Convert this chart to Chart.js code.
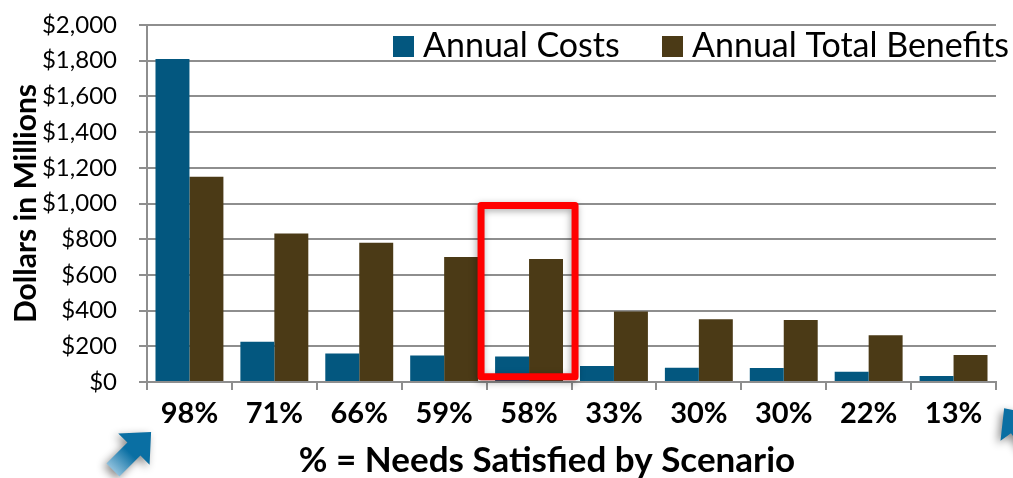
<!DOCTYPE html>
<html>
<head>
<meta charset="utf-8">
<title>Annual costs and benefits</title>
<script src="https://cdn.jsdelivr.net/npm/chart.js@4/dist/chart.umd.min.js"></script>
<style>
    html, body { margin: 0; padding: 0; background: #fff; overflow: hidden; }
    canvas { display: block; }
</style>
</head>
<body>
<canvas id="myChart" width="1013" height="478"></canvas>
<script>
const categories = ['98%', '71%', '66%', '59%', '58%', '33%', '30%', '30%', '22%', '13%']
const annualCosts = [1810, 225, 160, 148, 143, 90, 80, 78, 57, 34]
const annualBenefits = [1150, 832, 780, 700, 689, 395, 352, 348, 262, 151]

const fontName = 'Lato, "Open Sans", sans-serif'
const gridColor = '#8e8e8e'

function drawArrow(ctx, x, y, size, angle) {
    ctx.save()
    ctx.translate(x, y)
    ctx.rotate(angle)
    ctx.shadowColor = 'rgba(0,0,0,0.45)'
    ctx.shadowBlur = 8
    ctx.shadowOffsetX = -3
    ctx.shadowOffsetY = 3
    let g = ctx.createLinearGradient(0, -size, 0, size)
    g.addColorStop(0, '#0a6fa3')
    g.addColorStop(0.55, '#0a6fa3')
    g.addColorStop(1, '#8fc0dc')
    ctx.fillStyle = g
    ctx.beginPath()
    ctx.moveTo(0, -size)
    ctx.lineTo(size * 0.82, -size * 0.1)
    ctx.lineTo(size * 0.34, -size * 0.1)
    ctx.lineTo(size * 0.34, size)
    ctx.lineTo(-size * 0.34, size)
    ctx.lineTo(-size * 0.34, -size * 0.1)
    ctx.lineTo(-size * 0.82, -size * 0.1)
    ctx.closePath()
    ctx.fill()
    ctx.restore()
}

const extras = {
    id: 'extras',
    afterDatasetsDraw(chart) {
        const ctx = chart.ctx
        const x = chart.scales.x
        const y = chart.scales.y

        // red box round the 58% scenario
        const cx = x.getPixelForValue(4)
        const top = y.getPixelForValue(1000)
        const bottom = y.getPixelForValue(40)
        ctx.save()
        ctx.shadowColor = 'rgba(0,0,0,0.35)'
        ctx.shadowBlur = 7
        ctx.shadowOffsetX = -1
        ctx.shadowOffsetY = 2
        ctx.strokeStyle = '#ff0000'
        ctx.lineWidth = 7
        ctx.lineJoin = 'round'
        ctx.strokeRect(cx - 48, top + 2, 94, bottom - top)
        ctx.restore()

        drawArrow(ctx, 132, 451, 27, Math.PI / 4)
        drawArrow(ctx, 1020, 430, 27, -Math.PI / 5)

        ctx.save()
        ctx.fillStyle = '#000'
        ctx.textBaseline = 'middle'

        // x title is not centred on the plot in the original
        ctx.font = 'bold 35px ' + fontName
        ctx.textAlign = 'center'
        ctx.fillText('% = Needs Satisfied by Scenario', 547, 461)

        // legend sits over the top of the plot and runs past its right edge
        ctx.font = '34px ' + fontName
        ctx.textAlign = 'left'
        const legendX = [393, 662]
        chart.data.datasets.forEach((d, i) => {
            ctx.fillStyle = d.backgroundColor
            ctx.fillRect(legendX[i], 36, 21, 21)
            ctx.fillStyle = '#000'
            ctx.fillText(d.label, legendX[i] + 30, 46)
        })
        ctx.restore()
    }
}

var ctx = document.getElementById('myChart').getContext('2d')
var chart = new Chart(ctx, {
    type: 'bar',
    data: {
        labels: categories,
        datasets: [{
            label: 'Annual Costs',
            data: annualCosts,
            backgroundColor: '#03577f',
            barPercentage: 1,
            categoryPercentage: 0.8
        }, {
            label: 'Annual Total Benefits',
            data: annualBenefits,
            backgroundColor: '#4b3a16',
            barPercentage: 1,
            categoryPercentage: 0.8
        }]
    },
    options: {
        responsive: false,
        animation: false,
        layout: {padding: {top: 25, right: 17, left: 0, bottom: 0}},
        plugins: {
            tooltip: {enabled: false},
            legend: {display: false}
        },
        scales: {
            x: {
                afterFit(s) { s.height = 96 },
                grid: {drawOnChartArea: false, color: gridColor, lineWidth: 2, tickLength: 8},
                border: {color: gridColor, width: 2},
                ticks: {
                    color: '#000',
                    padding: 6,
                    maxRotation: 0,
                    font: {family: fontName, size: 29, weight: 'bold'}
                }
            },
            y: {
                min: 0,
                max: 2000,
                afterFit(s) {
                    s.width = 147
                    // big tick padding would otherwise push the plot down
                    s.paddingTop = 0
                    s.paddingBottom = 0
                },
                grid: {color: gridColor, lineWidth: 2, tickLength: 8},
                border: {color: gridColor, width: 2},
                title: {
                    display: true,
                    text: 'Dollars in Millions',
                    color: '#000',
                    padding: {top: 8, bottom: 0},
                    font: {family: fontName, size: 30, weight: 'bold'}
                },
                ticks: {
                    stepSize: 200,
                    autoSkip: false,
                    color: '#000',
                    padding: 22,
                    font: {family: fontName, size: 24},
                    callback: (v) => '$' + v.toLocaleString('en-US')
                }
            }
        }
    },
    plugins: [extras]
})
</script>
</body>
</html>
